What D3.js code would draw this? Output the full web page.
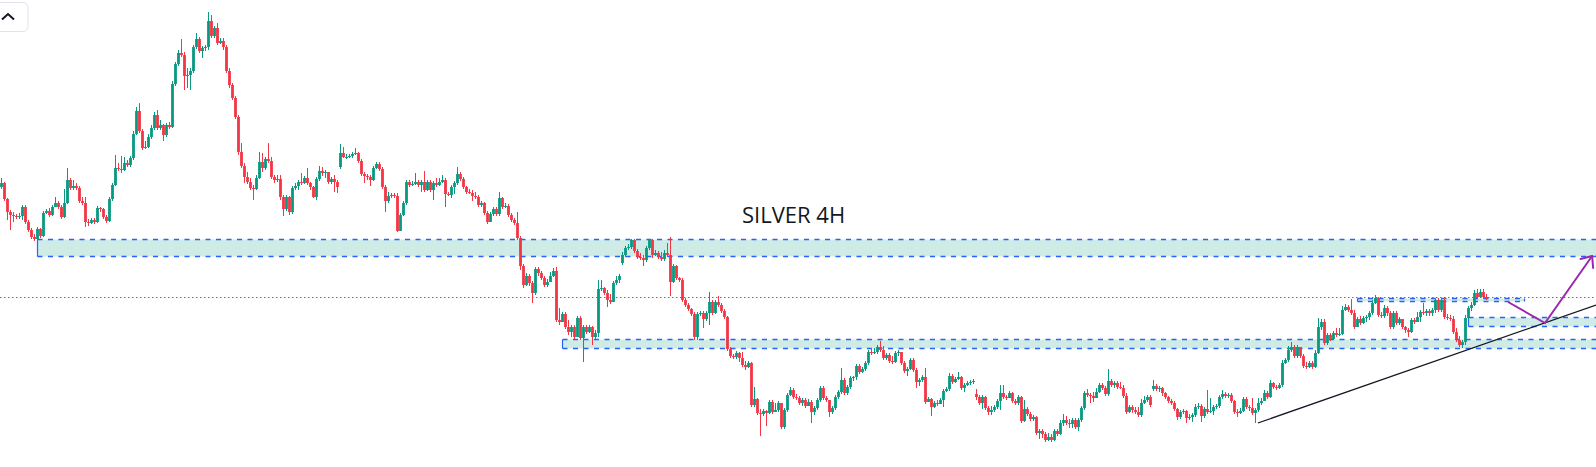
<!DOCTYPE html>
<html><head><meta charset="utf-8">
<script src="https://cdn.jsdelivr.net/npm/d3@7"></script>
<style>html,body{margin:0;padding:0;background:#fff;overflow:hidden}</style>
</head><body>
<svg id="chart" width="1596" height="467"></svg>
<script>
const title = "SILVER 4H";
const closes = [
31.17,31.01,30.88,30.85,30.84,30.83,30.84,30.93,30.78,30.70,
30.63,30.61,30.71,30.64,30.87,30.89,30.85,30.93,30.97,30.93,
30.83,30.97,31.20,31.12,31.14,31.12,30.99,30.97,30.78,30.77,
30.80,30.78,30.92,30.91,30.83,30.79,31.01,31.15,31.32,31.31,
31.30,31.37,31.35,31.42,31.66,31.89,31.69,31.52,31.53,31.63,
31.72,31.85,31.72,31.75,31.65,31.75,31.73,32.16,32.36,32.47,
32.45,32.24,32.25,32.29,32.53,32.61,32.49,32.52,32.53,32.79,
32.64,32.72,32.57,32.59,32.53,32.29,32.15,32.02,31.83,31.48,
31.34,31.23,31.18,31.12,31.11,31.22,31.38,31.32,31.41,31.39,
31.23,31.20,31.21,31.03,30.91,31.03,30.88,31.12,31.14,31.18,
31.17,31.22,31.17,31.13,31.03,31.21,31.29,31.27,31.28,31.18,
31.21,31.18,31.13,31.47,31.43,31.43,31.44,31.46,31.47,31.39,
31.26,31.24,31.23,31.20,31.32,31.36,31.31,31.13,30.99,31.04,
31.05,31.04,30.69,30.85,30.97,31.18,31.15,31.16,31.18,31.15,
31.18,31.10,31.18,31.10,31.17,31.15,31.18,31.20,31.06,31.05,
31.13,31.17,31.26,31.21,31.13,31.08,31.07,31.04,31.03,30.95,
30.97,30.87,30.78,30.86,30.91,30.86,31.02,30.93,30.94,30.85,
30.80,30.77,30.62,30.34,30.15,30.24,30.17,30.07,30.31,30.27,
30.22,30.15,30.18,30.24,30.29,29.80,29.78,29.86,29.73,29.68,
29.73,29.63,29.82,29.62,29.73,29.68,29.73,29.63,29.67,30.11,
30.12,30.07,30.00,29.98,30.17,30.20,30.24,30.45,30.52,30.53,
30.60,30.49,30.43,30.42,30.40,30.52,30.60,30.45,30.47,30.43,
30.41,30.47,30.45,30.18,30.34,30.22,30.20,30.00,29.95,29.91,
29.86,29.63,29.86,29.87,29.81,29.87,29.98,29.87,29.98,29.95,
29.89,29.83,29.51,29.44,29.43,29.47,29.42,29.35,29.33,29.37,
28.95,29.01,28.87,28.86,28.89,28.87,28.98,28.88,28.90,28.97,
28.73,28.90,29.05,29.10,29.03,29.02,28.97,29.00,28.94,28.98,
28.88,28.92,29.00,29.12,29.02,29.00,28.88,28.92,29.03,29.08,
29.20,29.07,29.13,29.22,29.23,29.34,29.28,29.31,29.37,29.48,
29.47,29.48,29.53,29.50,29.42,29.45,29.39,29.38,29.47,29.48,
29.37,29.29,29.31,29.40,29.30,29.18,29.20,29.23,28.98,29.01,
28.93,28.97,28.96,29.00,29.09,29.11,29.24,29.18,29.21,29.23,
29.12,29.15,29.17,29.18,29.19,29.03,28.97,29.03,28.92,28.88,
28.90,28.93,28.99,29.07,29.03,29.02,29.07,28.99,28.97,29.03,
28.79,28.91,28.86,28.81,28.83,28.67,28.69,28.66,28.60,28.63,
28.60,28.69,28.66,28.77,28.80,28.77,28.76,28.80,28.73,28.80,
28.92,29.07,29.05,29.04,29.02,29.08,29.15,29.12,29.06,29.19,
29.15,29.17,29.13,29.12,29.04,28.88,28.93,28.90,28.88,28.85,
28.97,29.00,29.03,28.95,29.14,29.11,29.12,29.07,29.03,28.99,
28.97,28.91,28.83,28.88,28.89,28.82,28.83,28.85,28.93,28.94,
28.84,28.91,28.88,28.89,28.93,28.94,29.03,29.06,29.04,29.05,
28.99,28.88,28.87,28.89,29.01,28.93,28.92,28.87,28.90,28.97,
28.99,29.07,29.03,29.17,29.13,29.12,29.15,29.37,29.40,29.50,
29.53,29.44,29.53,29.44,29.34,29.33,29.37,29.33,29.47,29.73,
29.78,29.57,29.65,29.61,29.67,29.65,29.66,29.90,29.93,29.90,
29.87,29.73,29.81,29.77,29.82,29.83,29.87,29.97,30.02,29.85,
29.84,29.92,29.87,29.73,29.87,29.77,29.81,29.73,29.70,29.68,
29.80,29.78,29.83,29.88,29.87,29.89,29.87,29.90,30.00,29.90,
30.00,29.83,29.82,29.81,29.68,29.60,29.55,29.58,29.82,29.92,
29.95,30.07,30.03,30.08,30.03,30.02];
const highs = [
31.22,31.18,31.02,30.90,30.88,30.86,30.87,30.95,30.95,30.80,
30.72,30.66,30.73,30.72,30.89,30.91,30.92,30.95,31.03,30.99,
30.95,31.11,31.32,31.22,31.20,31.17,31.14,31.03,31.03,30.81,
30.82,30.82,30.94,30.93,30.92,30.85,31.03,31.17,31.45,31.37,
31.44,31.43,31.40,31.44,31.69,31.93,31.97,31.71,31.59,31.66,
31.75,31.88,31.90,31.80,31.76,31.77,31.78,32.19,32.38,32.50,
32.61,32.48,32.32,32.32,32.55,32.67,32.63,32.54,32.55,32.88,
32.85,32.74,32.77,32.62,32.62,32.55,32.32,32.17,32.04,31.85,
31.57,31.37,31.28,31.22,31.15,31.25,31.48,31.47,31.43,31.57,
31.43,31.25,31.25,31.25,31.05,31.05,31.04,31.14,31.17,31.20,
31.27,31.24,31.32,31.18,31.14,31.23,31.34,31.33,31.30,31.28,
31.23,31.25,31.20,31.56,31.53,31.46,31.46,31.48,31.52,31.48,
31.41,31.28,31.26,31.25,31.34,31.38,31.38,31.33,31.15,31.08,
31.07,31.07,31.07,30.87,30.99,31.20,31.20,31.19,31.27,31.20,
31.20,31.29,31.20,31.20,31.19,31.22,31.22,31.25,31.22,31.08,
31.15,31.19,31.33,31.28,31.23,31.14,31.11,31.10,31.08,31.05,
30.99,30.98,30.89,30.88,30.93,30.93,31.08,31.03,30.97,30.96,
30.87,30.82,30.88,30.64,30.36,30.27,30.26,30.19,30.33,30.33,
30.29,30.24,30.21,30.28,30.32,30.33,29.92,29.88,29.88,29.80,
29.75,29.75,29.84,29.84,29.75,29.75,29.75,29.74,29.70,30.20,
30.20,30.13,30.10,30.06,30.19,30.24,30.26,30.48,30.54,30.56,
30.61,30.61,30.51,30.47,30.45,30.54,30.61,30.61,30.50,30.49,
30.48,30.50,30.57,30.63,30.36,30.35,30.23,30.22,30.02,29.97,
29.92,29.88,29.88,29.89,29.89,29.89,30.08,30.00,30.00,30.04,
29.97,29.91,29.84,29.53,29.46,29.49,29.48,29.48,29.39,29.39,
29.38,29.13,29.02,28.91,28.91,28.90,29.00,29.00,28.97,28.99,
28.91,28.92,29.07,29.13,29.12,29.06,29.04,29.02,29.02,29.01,
29.00,28.94,29.02,29.14,29.14,29.04,29.00,28.94,29.05,29.10,
29.32,29.22,29.15,29.24,29.24,29.36,29.36,29.33,29.39,29.50,
29.52,29.52,29.55,29.59,29.54,29.47,29.47,29.44,29.49,29.50,
29.46,29.39,29.33,29.42,29.42,29.32,29.22,29.25,29.32,29.03,
29.02,28.99,29.00,29.02,29.11,29.13,29.27,29.26,29.23,29.28,
29.24,29.17,29.19,29.20,29.21,29.11,29.05,29.05,29.04,28.94,
28.94,28.95,29.01,29.15,29.15,29.05,29.09,29.08,29.01,29.05,
29.04,29.00,28.93,28.88,28.85,28.84,28.71,28.71,28.68,28.67,
28.66,28.71,28.71,28.80,28.86,28.84,28.81,28.82,28.82,28.82,
28.94,29.09,29.11,29.07,29.08,29.12,29.17,29.17,29.14,29.31,
29.21,29.19,29.19,29.18,29.15,29.07,28.95,28.95,28.93,28.93,
29.01,29.04,29.05,29.05,29.20,29.16,29.14,29.13,29.08,29.04,
29.01,28.99,28.92,28.90,28.91,28.90,28.86,28.87,28.96,28.97,
28.96,28.93,29.10,29.02,28.95,28.96,29.05,29.10,29.08,29.07,
29.07,29.00,28.91,28.92,29.03,29.03,28.95,29.02,28.92,29.02,
29.02,29.10,29.09,29.20,29.18,29.15,29.17,29.40,29.42,29.54,
29.58,29.55,29.55,29.51,29.46,29.38,29.39,29.39,29.50,29.82,
29.81,29.81,29.67,29.67,29.69,29.72,29.72,29.94,29.96,29.95,
30.01,29.90,29.83,29.84,29.84,29.85,29.89,30.00,30.05,30.03,
29.88,29.95,29.94,29.89,29.89,29.89,29.83,29.80,29.74,29.72,
29.82,29.82,29.88,29.90,29.97,29.91,29.91,29.92,30.02,30.02,
30.02,30.02,29.86,29.85,29.84,29.72,29.64,29.60,29.85,29.94,
29.98,30.10,30.11,30.11,30.11,30.06];
const lows = [
31.11,30.99,30.80,30.70,30.78,30.81,30.81,30.80,30.76,30.68,
30.61,30.59,30.59,30.62,30.63,30.86,30.83,30.84,30.95,30.91,
30.81,30.82,30.96,31.10,31.10,31.10,30.97,30.95,30.73,30.74,
30.76,30.76,30.77,30.88,30.81,30.77,30.78,30.99,31.14,31.29,
31.27,31.29,31.33,31.33,31.40,31.65,31.67,31.50,31.51,31.52,
31.61,31.70,31.70,31.70,31.59,31.63,31.71,31.72,32.14,32.34,
32.43,32.10,32.12,32.10,32.27,32.51,32.47,32.42,32.49,32.50,
32.62,32.62,32.55,32.56,32.50,32.27,32.12,32.00,31.81,31.45,
31.32,31.17,31.16,31.10,31.00,31.10,31.21,31.28,31.30,31.37,
31.21,31.17,31.18,31.00,30.84,30.89,30.85,30.86,31.10,31.10,
31.15,31.16,31.15,31.10,31.02,31.00,31.19,31.24,31.22,31.16,
31.16,31.08,31.07,31.31,31.42,31.41,31.42,31.42,31.45,31.37,
31.24,31.17,31.20,31.14,31.19,31.31,31.29,31.11,30.88,30.97,
31.02,31.02,30.68,30.78,30.84,30.95,31.13,31.14,31.15,31.13,
31.08,31.08,31.09,31.08,31.00,31.13,31.14,31.17,30.93,31.04,
31.02,31.06,31.15,31.19,31.11,31.06,31.06,30.99,31.01,30.93,
30.93,30.85,30.76,30.78,30.84,30.84,30.84,30.91,30.92,30.83,
30.78,30.75,30.60,30.30,30.12,30.14,30.14,29.97,30.05,30.24,
30.20,30.13,30.13,30.20,30.23,29.78,29.75,29.78,29.71,29.65,
29.63,29.61,29.63,29.60,29.38,29.66,29.67,29.55,29.61,29.63,
30.09,30.05,29.93,29.96,29.98,30.15,30.17,30.35,30.43,30.50,
30.51,30.47,30.41,30.40,30.34,30.38,30.50,30.42,30.44,30.41,
30.39,30.39,30.43,30.04,30.17,30.20,30.18,29.98,29.93,29.89,
29.84,29.60,29.60,29.84,29.72,29.79,29.75,29.85,29.86,29.93,
29.87,29.81,29.49,29.42,29.41,29.41,29.38,29.33,29.30,29.32,
28.93,28.93,28.85,28.64,28.84,28.74,28.86,28.86,28.88,28.88,
28.71,28.71,28.88,29.04,29.01,29.00,28.95,28.94,28.92,28.96,
28.77,28.85,28.90,28.98,29.00,28.98,28.83,28.86,28.90,29.01,
29.06,29.05,29.05,29.11,29.19,29.20,29.26,29.27,29.29,29.35,
29.45,29.46,29.46,29.48,29.40,29.40,29.37,29.36,29.37,29.44,
29.35,29.27,29.24,29.30,29.28,29.12,29.14,29.18,28.96,28.98,
28.84,28.92,28.94,28.96,28.93,29.08,29.09,29.16,29.17,29.20,
29.10,29.08,29.14,29.15,29.16,29.00,28.95,28.91,28.90,28.85,
28.85,28.88,28.91,28.90,29.01,29.00,29.02,28.97,28.95,28.95,
28.77,28.78,28.84,28.79,28.79,28.65,28.61,28.62,28.58,28.59,
28.58,28.59,28.64,28.65,28.74,28.75,28.72,28.72,28.71,28.69,
28.78,28.90,29.03,28.97,28.98,29.03,29.07,29.10,29.04,29.04,
29.13,29.12,29.11,29.11,29.02,28.86,28.87,28.87,28.86,28.83,
28.83,28.96,28.98,28.93,29.09,29.09,29.08,29.04,29.01,28.97,
28.95,28.89,28.80,28.81,28.86,28.77,28.80,28.78,28.83,28.91,
28.78,28.82,28.86,28.87,28.85,28.91,28.92,29.01,29.02,29.02,
28.97,28.86,28.83,28.86,28.88,28.91,28.89,28.85,28.77,28.88,
28.95,29.00,29.01,29.02,29.11,29.10,29.11,29.13,29.36,29.38,
29.48,29.42,29.42,29.42,29.32,29.31,29.32,29.31,29.32,29.46,
29.70,29.55,29.55,29.59,29.60,29.63,29.64,29.65,29.89,29.88,
29.85,29.71,29.75,29.75,29.76,29.78,29.80,29.85,29.96,29.83,
29.82,29.82,29.84,29.71,29.71,29.75,29.75,29.71,29.67,29.63,
29.67,29.76,29.78,29.78,29.85,29.84,29.84,29.84,29.87,29.88,
29.88,29.81,29.80,29.79,29.66,29.58,29.53,29.52,29.55,29.80,
29.89,29.94,30.01,30.02,30.01,30.00];
// candles whose open differs from the previous close: [index, open]
const gapOpens = [[0,31.13],[113,31.33],[207,30.37],[325,29.06],[384,29.11]];
// zones: [startBar, endBar (null = to edge), top price, bottom price]
const zones = [[12,null,30.60,30.43],[187,null,29.60,29.51],[452,507.5,30.01,29.98],[489,null,29.82,29.74]];
const trendLine = [[418.8,28.77],[531.5,29.95]];
const projection = [[502.2,29.98],[514.5,29.77],[530.2,30.44]];

const W = 1596, H = 467;
const UP = "#089981", DOWN = "#F23645";
const svg = d3.select("#chart");
const x = d3.scaleLinear().domain([0, closes.length - 1]).range([1.5, 1.5 + 3 * (closes.length - 1)]);
const y = d3.scaleLinear().domain([28.33, 33]).range([H, 0]);
const snap = v => Math.round(v - 0.5) + 0.5;

const gapMap = new Map(gapOpens);
const candles = closes.map((c, i) => {
  const o = gapMap.has(i) ? gapMap.get(i) : closes[i - 1];
  return {i, o, c, h: Math.max(highs[i], o, c), l: Math.min(lows[i], o, c)};
});

// zones
const zg = svg.append("g");
zones.forEach(([s, e, t, b]) => {
  const x0 = snap(x(s)), x1 = e == null ? W + 2 : snap(x(e));
  const yt = snap(y(t)), yb = snap(y(b));
  zg.append("rect").attr("x", x0).attr("y", yt).attr("width", x1 - x0).attr("height", yb - yt)
    .attr("fill", "rgba(8,153,129,0.2)");
  const line = (xa, ya, xb, yb2) => zg.append("line").attr("x1", xa).attr("y1", ya).attr("x2", xb).attr("y2", yb2)
    .attr("stroke", "#2962FF").attr("stroke-width", 1.3).attr("stroke-dasharray", "5,5.5");
  line(x0, yt, x1, yt);
  line(x0, yb, x1, yb);
  zg.append("line").attr("x1", x0).attr("x2", x0).attr("y1", yt).attr("y2", yb).attr("stroke", "#2962FF").attr("stroke-width", 1.2);
  if (e != null) zg.append("line").attr("x1", x1).attr("x2", x1).attr("y1", yt).attr("y2", yb).attr("stroke", "#2962FF").attr("stroke-width", 1.2);
});

// price line
const last = closes[closes.length - 1];
svg.append("line").attr("x1", 0).attr("x2", W).attr("y1", snap(y(last))).attr("y2", snap(y(last)))
  .attr("stroke", DOWN).attr("stroke-width", 1).attr("stroke-dasharray", "1.5,2.5");

// candles
const cg = svg.append("g");
cg.selectAll("line.w").data(candles).join("line").attr("class", "w")
  .attr("x1", d => x(d.i)).attr("x2", d => x(d.i))
  .attr("y1", d => y(d.h)).attr("y2", d => y(d.l))
  .attr("stroke", d => d.c >= d.o ? UP : DOWN).attr("stroke-width", 1);
cg.selectAll("rect.b").data(candles).join("rect").attr("class", "b")
  .attr("x", d => x(d.i) - 1.4).attr("width", 2.8)
  .attr("y", d => y(Math.max(d.o, d.c)))
  .attr("height", d => Math.max(1, Math.abs(y(d.o) - y(d.c))))
  .attr("fill", d => d.c >= d.o ? UP : DOWN);

// trend line
svg.append("line").attr("x1", x(trendLine[0][0])).attr("y1", y(trendLine[0][1]))
  .attr("x2", x(trendLine[1][0])).attr("y2", y(trendLine[1][1]))
  .attr("stroke", "#131722").attr("stroke-width", 1.3);

// projection arrow
const pl = d3.line().x(d => x(d[0])).y(d => y(d[1]));
svg.append("path").attr("d", pl(projection)).attr("fill", "none").attr("stroke", "#9C27B0").attr("stroke-width", 2);
const pA = projection[projection.length - 2], pB = projection[projection.length - 1];
const tx = x(pB[0]), ty = y(pB[1]);
const ang = Math.atan2(y(pA[1]) - ty, x(pA[0]) - tx);
[-0.7, 0.7].forEach(da => {
  svg.append("line").attr("x1", tx).attr("y1", ty)
    .attr("x2", tx + 12 * Math.cos(ang + da)).attr("y2", ty + 12 * Math.sin(ang + da))
    .attr("stroke", "#9C27B0").attr("stroke-width", 2).attr("stroke-linecap", "round");
});

// title
svg.append("text").attr("x", 742).attr("y", 223.3).text(title)
  .attr("font-family", "'Open Sans', 'Noto Sans', sans-serif").attr("font-size", 22).attr("fill", "#131722");

// collapse button
svg.append("rect").attr("x", -6).attr("y", 2.5).attr("width", 34).attr("height", 29).attr("rx", 5)
  .attr("fill", "#fff").attr("stroke", "#E0E3EB");
svg.append("path").attr("d", "M2,19.5 L8,14 L14,19.5").attr("fill", "none").attr("stroke", "#131722").attr("stroke-width", 2);
</script>
</body></html>
